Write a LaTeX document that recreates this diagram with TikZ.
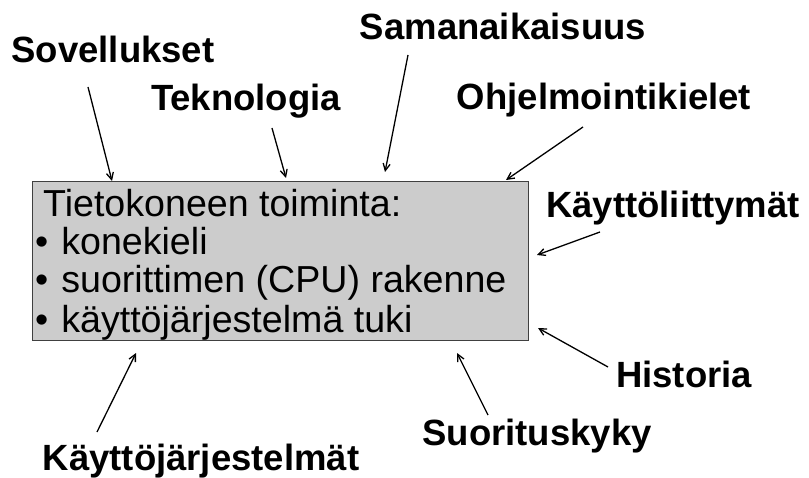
\documentclass[tikz,border=0pt]{standalone}
\usepackage{fontspec}
\setmainfont{Liberation Sans}
\usetikzlibrary{arrows.meta}
\begin{document}
\begin{tikzpicture}[x=1bp,y=-1bp,
  lbl/.style={font=\fontsize{36.5bp}{40bp}\selectfont\bfseries, inner sep=0pt, anchor=base},
  boxtxt/.style={font=\fontsize{37.6bp}{40bp}\selectfont, inner sep=0pt, anchor=base west},
  mainbox/.style={draw=black!75, fill=black!20, line width=1.2bp, anchor=north west,
    minimum width=496bp, minimum height=159bp, inner sep=0pt},
  arr/.style={line width=1.3bp, -{Straight Barb[length=7bp,width=7bp]}}]
\useasboundingbox (0,0) rectangle (809,478);
\node[mainbox] (box) at (32,181) {};
\node[boxtxt] (l1) at (43,217) {Tietokoneen toiminta:};
\node[boxtxt] (l2) at (35,255) {•\hspace{13bp}konekieli};
\node[boxtxt] (l3) at (35,293) {•\hspace{13bp}suorittimen (CPU) rakenne};
\node[boxtxt] (l4) at (35,332) {•\hspace{13bp}käyttöjärjestelmä tuki};

\node[lbl] (sov) at (113,63) {Sovellukset};
\node[lbl] (tek) at (246,111) {Teknologia};
\node[lbl] (sam) at (503,40) {Samanaikaisuus};
\node[lbl] (ohj) at (604,110) {Ohjelmointikielet};
\node[lbl] (kli) at (673,218) {Käyttöliittymät};
\node[lbl] (his) at (684,387) {Historia};
\node[lbl] (suo) at (537,445) {Suorituskyky};
\node[lbl] (kjs) at (201,470) {Käyttöjärjestelmät};

\coordinate (sovA) at (88,87);   \coordinate (sovB) at (112,181);
\coordinate (tekA) at (272,128); \coordinate (tekB) at (286,178);
\coordinate (samA) at (408,55);  \coordinate (samB) at (385,172);
\coordinate (ohjA) at (583,127); \coordinate (ohjB) at (506,180);
\coordinate (kliA) at (600,232); \coordinate (kliB) at (537,255);
\coordinate (hisA) at (608,367); \coordinate (hisB) at (538,328);
\coordinate (suoA) at (488,415); \coordinate (suoB) at (457,353);
\coordinate (kjsA) at (97,432);  \coordinate (kjsB) at (136,353);

\draw[arr] (sovA) -- (sovB);
\draw[arr] (tekA) -- (tekB);
\draw[arr] (samA) -- (samB);
\draw[arr] (ohjA) -- (ohjB);
\draw[arr] (kliA) -- (kliB);
\draw[arr] (hisA) -- (hisB);
\draw[arr] (suoA) -- (suoB);
\draw[arr] (kjsA) -- (kjsB);
\end{tikzpicture}
\end{document}
